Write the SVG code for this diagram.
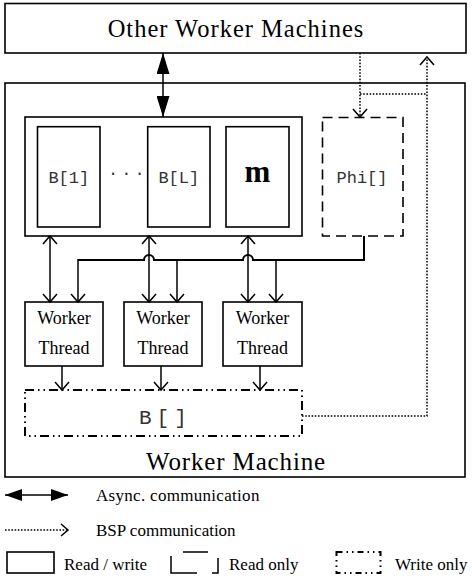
<svg xmlns="http://www.w3.org/2000/svg" width="472" height="581" viewBox="0 0 472 581">
<style>
.box{fill:none;stroke:#000;stroke-width:1.6}
.ro{fill:none;stroke:#000;stroke-width:1.6;stroke-dasharray:10,6}
.wo{fill:none;stroke:#000;stroke-width:2;stroke-dasharray:9,4,1.5,4,1.5,4}
.ln{fill:none;stroke:#000;stroke-width:1.5}
.thick{fill:none;stroke:#000;stroke-width:2}
.dot{fill:none;stroke:#000;stroke-width:1.5;stroke-dasharray:1.6,1.6}
.serif{font-family:"Liberation Serif","Times New Roman",serif;fill:#000}
.mono{font-family:"Liberation Mono","Courier New",monospace;fill:#333}
</style>
<defs>
<marker id="open" markerUnits="userSpaceOnUse" viewBox="0 0 8 14" refX="8" refY="7" markerWidth="8" markerHeight="14" orient="auto-start-reverse" overflow="visible">
<path d="M0,0 L8,7 L0,14" fill="none" stroke="#000" stroke-width="1.5"/>
</marker>
<marker id="opensm" markerUnits="userSpaceOnUse" viewBox="0 0 7 12" refX="7" refY="6" markerWidth="7" markerHeight="12" orient="auto-start-reverse" overflow="visible">
<path d="M0,0 L7,6 L0,12" fill="none" stroke="#000" stroke-width="1.5"/>
</marker>
<marker id="fill" markerUnits="userSpaceOnUse" viewBox="0 0 21 13" refX="21" refY="6.5" markerWidth="21" markerHeight="13" orient="auto-start-reverse">
<path d="M0,0 L21,6.5 L0,13 Z" fill="#000"/>
</marker>
<marker id="fillsm" markerUnits="userSpaceOnUse" viewBox="0 0 17 12" refX="17" refY="6" markerWidth="17" markerHeight="12" orient="auto-start-reverse">
<path d="M0,0 L17,6 L0,12 Z" fill="#000"/>
</marker>
</defs>
<rect width="472" height="581" fill="#fff"/>

<g id="other-workers">
<rect class="box" x="5" y="3.5" width="461" height="49.5"/>
<text class="serif" x="236" y="37" font-size="24.5" letter-spacing="1" text-anchor="middle">Other Worker Machines</text>
</g>

<g id="worker-machine">
<rect class="box" x="5" y="83" width="460" height="394"/>
<text class="serif" x="236" y="470" font-size="25" letter-spacing="0.85" text-anchor="middle">Worker Machine</text>
</g>

<g id="container">
<rect class="box" x="25" y="117" width="277" height="119"/>
</g>
<g id="b1">
<rect class="box" x="37.5" y="126.7" width="62.5" height="100.3"/>
<text class="mono" x="68.8" y="183" font-size="17" text-anchor="middle">B[1]</text>
</g>
<g id="dots">
<text class="mono" x="108" y="175" font-size="17" letter-spacing="3">...</text>
</g>
<g id="bL">
<rect class="box" x="147.7" y="126.7" width="62.3" height="100.3"/>
<text class="mono" x="178.8" y="183" font-size="17" text-anchor="middle">B[L]</text>
</g>
<g id="m">
<rect class="box" x="226" y="126.7" width="63" height="100.3"/>
<text class="serif" x="257.5" y="182" font-size="31" font-weight="bold" text-anchor="middle">m</text>
</g>
<g id="phi">
<rect class="ro" x="322.5" y="117.5" width="80.5" height="118.5"/>
<text class="mono" x="362" y="183" font-size="17" text-anchor="middle">Phi[]</text>
</g>

<g id="thread1">
<rect class="box" x="25" y="302" width="78" height="64"/>
<text class="serif" x="64" y="324" font-size="18" text-anchor="middle">Worker</text>
<text class="serif" x="64" y="354" font-size="18" text-anchor="middle">Thread</text>
</g>
<g id="thread2">
<rect class="box" x="124" y="302" width="78" height="64"/>
<text class="serif" x="163" y="324" font-size="18" text-anchor="middle">Worker</text>
<text class="serif" x="163" y="354" font-size="18" text-anchor="middle">Thread</text>
</g>
<g id="thread3">
<rect class="box" x="223" y="302" width="79" height="64"/>
<text class="serif" x="262.5" y="324" font-size="18" text-anchor="middle">Worker</text>
<text class="serif" x="262.5" y="354" font-size="18" text-anchor="middle">Thread</text>
</g>

<g id="bglobal">
<rect class="wo" x="25" y="390" width="277" height="46"/>
<text class="mono" x="139" y="424" font-size="21" letter-spacing="5">B[]</text>
</g>

<g id="connectors">
<line class="ln" x1="163" y1="53" x2="163" y2="117" marker-start="url(#fill)" marker-end="url(#fill)"/>
<line class="ln" x1="50" y1="236" x2="50" y2="302" marker-start="url(#open)" marker-end="url(#open)"/>
<line class="ln" x1="149" y1="236" x2="149" y2="302" marker-start="url(#open)" marker-end="url(#open)"/>
<line class="ln" x1="248" y1="236" x2="248" y2="302" marker-start="url(#open)" marker-end="url(#open)"/>
<path class="thick" d="M364,236 V260 H253 A5,5 0 0 0 243,260 H154 A5,5 0 0 0 144,260 H78"/>
<line class="ln" x1="78" y1="259" x2="78" y2="302" marker-end="url(#open)"/>
<line class="ln" x1="177" y1="259" x2="177" y2="302" marker-end="url(#open)"/>
<line class="ln" x1="276" y1="259" x2="276" y2="302" marker-end="url(#open)"/>
<line class="ln" x1="62" y1="366" x2="62" y2="390" marker-end="url(#open)"/>
<line class="ln" x1="161" y1="366" x2="161" y2="390" marker-end="url(#open)"/>
<line class="ln" x1="260" y1="366" x2="260" y2="390" marker-end="url(#open)"/>
<path class="dot" d="M360,53 V117" marker-end="url(#open)"/>
<path class="dot" d="M360,94 H427"/>
<path class="dot" d="M302,416 H427 V57" marker-end="url(#open)"/>
</g>

<g id="legend">
<line class="ln" x1="5" y1="495" x2="68" y2="495" marker-start="url(#fillsm)" marker-end="url(#fillsm)"/>
<text class="serif" x="96" y="501" font-size="17" letter-spacing="0.3">Async. communication</text>
<path class="dot" d="M5,530 H68" marker-end="url(#opensm)"/>
<text class="serif" x="96" y="536" font-size="17">BSP communication</text>
<rect class="box" x="7" y="552" width="47" height="21"/>
<text class="serif" x="64" y="570" font-size="17">Read / write</text>
<path class="ln" d="M171,556 V573 H197 M212,573 H218 V558 M183,552 H208" stroke-width="1.6"/>
<text class="serif" x="229" y="570" font-size="17">Read only</text>
<rect class="wo" x="336.5" y="552" width="44" height="21" stroke-width="1.6" style="stroke-dasharray:6,4,1.5,4,1.5,4"/>
<text class="serif" x="395" y="570" font-size="17">Write only</text>
</g>
</svg>
